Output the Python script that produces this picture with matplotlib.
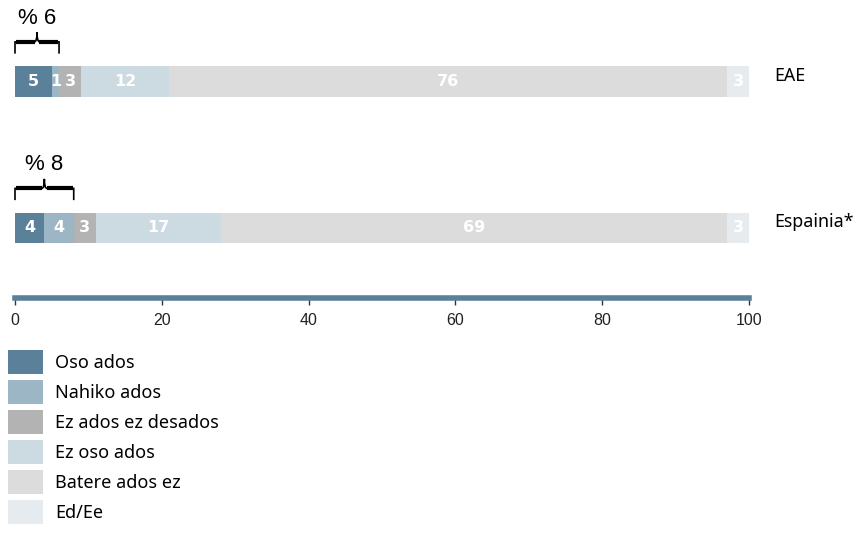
import numpy as np
import matplotlib
matplotlib.use('Agg')
import matplotlib.pyplot as plt
from matplotlib.patches import Patch
from matplotlib.path import Path
from matplotlib.patches import PathPatch

# data
regions = ['EAE', 'Espainia*']
categories = ['Oso ados', 'Nahiko ados', 'Ez ados ez desados',
              'Ez oso ados', 'Batere ados ez', 'Ed/Ee']
eae = [5, 1, 3, 12, 76, 3]
espainia = [4, 4, 3, 17, 69, 3]
brace_totals = [6, 8]
ticks = [0, 20, 40, 60, 80, 100]

colors = ['#5b809a', '#9cb6c6', '#b3b3b3', '#ccdae2', '#dcdcdc', '#e6ebef']
text_font = ['Noto Sans', 'DejaVu Sans']
tick_font = ['Liberation Sans', 'DejaVu Sans']

fig = plt.figure(figsize=(8.56, 5.33), dpi=100)
ax = fig.add_axes([15/856, 1 - 298/533, 734/856, 298/533])

values = [eae, espainia]
bar_h = 0.21
for i, vals in enumerate(values):
    left = 0
    for j, v in enumerate(vals):
        ax.barh(i, v, left=left, height=bar_h, color=colors[j], linewidth=0)
        ax.text(left + v / 2, i, str(v), ha='center', va='center',
                color='white', fontsize=11.5, fontweight='bold',
                family='DejaVu Sans')
        left += v
    ax.text(103.4, i - 0.04, regions[i], ha='left', va='center',
            fontsize=12.8, family=text_font, clip_on=False)

    # curly brace over the "ados" share
    w = brace_totals[i]
    m = w / 2
    yb, yl, yt = i - 0.19, i - 0.27, i - 0.335
    c = 0.35
    verts = [(0, yb), (0, yl), (0, yl), (c, yl),
             (m - c, yl), (m, yl), (m, yt),
             (m, yl), (m + c, yl),
             (w - c, yl), (w, yl), (w, yl), (w, yb)]
    codes = [Path.MOVETO, Path.LINETO, Path.CURVE3, Path.CURVE3,
             Path.LINETO, Path.CURVE3, Path.CURVE3,
             Path.CURVE3, Path.CURVE3,
             Path.LINETO, Path.CURVE3, Path.LINETO, Path.LINETO]
    ax.add_patch(PathPatch(Path(verts, codes), fill=False, lw=1.2,
                           edgecolor='black', clip_on=False))
    ax.plot([0.15, m - 0.3], [yl, yl], color='black', lw=3, solid_capstyle='butt')
    ax.plot([m + 0.3, w - 0.15], [yl, yl], color='black', lw=3, solid_capstyle='butt')
    ax.text(m, i - 0.43, '% ' + str(w), ha='center', va='center',
            fontsize=16, family=['Liberation Sans', 'DejaVu Sans'])

ax.set_xlim(0, 100)
ax.set_ylim(1.478, -0.556)
ax.set_xticks(ticks)
ax.set_xticklabels([str(t) for t in ticks], family=tick_font, fontsize=11.5)
ax.set_yticks([])
for s in ['top', 'right', 'left']:
    ax.spines[s].set_visible(False)
ax.spines['bottom'].set_color('#5b809a')
ax.spines['bottom'].set_linewidth(4)
ax.tick_params(axis='x', length=5, width=1, color='#333333', pad=6,
               labelcolor='#222222')

handles = [Patch(facecolor=c, edgecolor='none') for c in colors]
fig.legend(handles, categories, loc='upper left',
           bbox_to_anchor=(8/856, 1 - 350/533), frameon=False,
           prop={'family': text_font, 'size': 13},
           handlelength=1.94, handleheight=1.63, labelspacing=0.36,
           handletextpad=0.66, borderpad=0, borderaxespad=0)

fig.savefig('out.png', dpi=100)
